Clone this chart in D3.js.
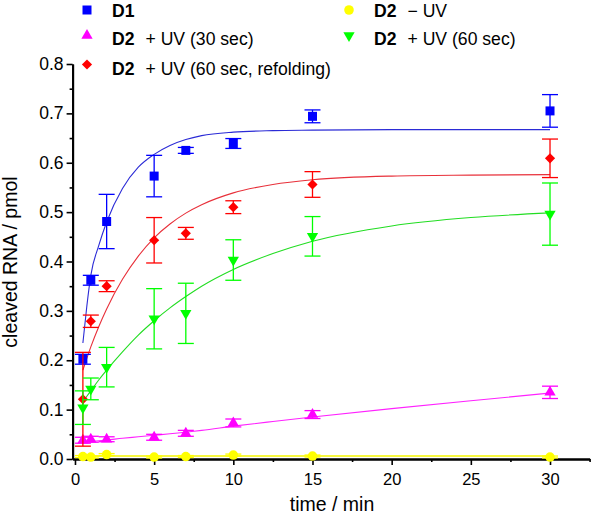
<!DOCTYPE html>
<html>
<head>
<meta charset="utf-8">
<script src="https://cdn.jsdelivr.net/npm/d3@7"></script>
<style>
  body { margin: 0; background: #fff; }
  svg { font-family: Arial, "Liberation Sans", sans-serif; }
</style>
</head>
<body>
<svg id="drawing_region"></svg>
<script>
// measurement times (min)
const times = [0.5, 1, 2, 5, 7, 10, 15, 30];

// cleaved RNA (pmol), means and error bars
const d1_mean = [0.202, 0.362, 0.481, 0.573, 0.625, 0.639, 0.694, 0.705];
const d1_err = [0.010, 0.010, 0.055, 0.042, 0.006, 0.010, 0.013, 0.033];
const noUV_mean = [0.005, 0.004, 0.009, 0.004, 0.005, 0.008, 0.006, 0.004];
const noUV_err = [0.002, 0.002, 0.002, 0.002, 0.002, 0.002, 0.002, 0.002];
const uv30_mean = [0.038, 0.040, 0.040, 0.044, 0.052, 0.073, 0.090, 0.135];
const uv30_err = [0.006, 0.006, 0.005, 0.006, 0.006, 0.008, 0.008, 0.0125];
const uv60_mean = [0.104, 0.142, 0.186, 0.284, 0.295, 0.403, 0.451, 0.496];
const uv60_err = [0.034, 0.022, 0.040, 0.061, 0.061, 0.041, 0.040, 0.063];
const refold_mean = [0.121, 0.279, 0.350, 0.443, 0.457, 0.510, 0.556, 0.609];
const refold_err = [0.095, 0.0125, 0.011, 0.046, 0.012, 0.013, 0.026, 0.039];

// fitted curves at these times
const fit_times = [0.5, 0.75, 1, 1.5, 2, 3, 4, 5, 6, 7, 8, 10, 12.5, 15, 20, 25, 30];
const d1_fit = [0.235, 0.310, 0.372, 0.432, 0.480, 0.548, 0.591, 0.617, 0.635, 0.647, 0.655, 0.662, 0.665, 0.666, 0.667, 0.667, 0.667];
const noUV_fit = [0.006, 0.006, 0.006, 0.006, 0.006, 0.006, 0.006, 0.006, 0.006, 0.006, 0.006, 0.006, 0.006, 0.006, 0.006, 0.006, 0.006];
const uv30_fit = [0.034, 0.035, 0.0355, 0.037, 0.0385, 0.042, 0.045, 0.048, 0.051, 0.0545, 0.058, 0.0665, 0.076, 0.085, 0.102, 0.118, 0.1335];
const uv60_fit = [0.115, 0.127, 0.138, 0.160, 0.180, 0.217, 0.251, 0.280, 0.306, 0.329, 0.350, 0.384, 0.416, 0.441, 0.472, 0.489, 0.4985];
const refold_fit = [0.180, 0.204, 0.227, 0.268, 0.304, 0.364, 0.411, 0.448, 0.476, 0.498, 0.515, 0.539, 0.556, 0.5655, 0.573, 0.575, 0.576];

const x_ticks = [0, 5, 10, 15, 20, 25, 30];
const x_minor = [2.5, 7.5, 12.5, 17.5, 22.5, 27.5, 32.5];
const y_ticks = [0, 0.1, 0.2, 0.3, 0.4, 0.5, 0.6, 0.7, 0.8];
const y_minor = [0.05, 0.15, 0.25, 0.35, 0.45, 0.55, 0.65, 0.75];

const series = [
    { bold: 'D1', rest: '', mean: d1_mean, err: d1_err, fit: d1_fit, color: '#0000ff', line: '#2b2bd6', shape: 'square', col: 0, row: 0 },
    { bold: 'D2', rest: '\u2212 UV', mean: noUV_mean, err: noUV_err, fit: noUV_fit, color: '#ffff00', line: '#f5f500', shape: 'circle', col: 1, row: 0 },
    { bold: 'D2', rest: '+ UV (30 sec)', mean: uv30_mean, err: uv30_err, fit: uv30_fit, color: '#ff00ff', line: '#ff22ff', shape: 'up', col: 0, row: 1 },
    { bold: 'D2', rest: '+ UV (60 sec)', mean: uv60_mean, err: uv60_err, fit: uv60_fit, color: '#00ff00', line: '#22dd22', shape: 'down', col: 1, row: 1 },
    { bold: 'D2', rest: '+ UV (60 sec, refolding)', mean: refold_mean, err: refold_err, fit: refold_fit, color: '#ff0000', line: '#e8303a', shape: 'diamond', col: 0, row: 2 }
];

function symbolPath( shape ) {
    if ( shape == 'square' ) return d3.symbol( d3.symbolSquare, 81 )();
    if ( shape == 'diamond' ) return d3.symbol( d3.symbolSquare, 52 )();
    if ( shape == 'circle' ) return d3.symbol( d3.symbolCircle, 72 )();
    return d3.symbol( d3.symbolTriangle, 55 )();
}
function symbolRotate( shape ) {
    if ( shape == 'diamond' ) return ' rotate(45)';
    if ( shape == 'down' ) return ' rotate(180)';
    return '';
}

const config = { width: 600, height: 517 };

const svg = d3.select('#drawing_region')
    .attr('width', config.width)
    .attr('height', config.height);

const xscale = d3.scaleLinear().domain([-0.15, 32.5]).range([72.6, 589.6]);
const yscale = d3.scaleLinear().domain([0, 0.8]).range([459, 64]);

// axes
const xaxis_group = svg.append('g').attr('transform', `translate(0, ${yscale(0)})`);
xaxis_group.call( d3.axisBottom( xscale ).tickValues( x_ticks ).tickSize(6).tickSizeOuter(0).tickPadding(8) );
xaxis_group.append('g').call( d3.axisBottom( xscale ).tickValues( x_minor ).tickSize(3).tickSizeOuter(0).tickFormat('') );

const yaxis_group = svg.append('g').attr('transform', `translate(${xscale.range()[0]}, 0)`);
yaxis_group.call( d3.axisLeft( yscale ).tickValues( y_ticks ).tickSize(6).tickSizeOuter(0).tickPadding(3).tickFormat( d3.format('.1f') ) );
yaxis_group.append('g').call( d3.axisLeft( yscale ).tickValues( y_minor ).tickSize(3).tickSizeOuter(0).tickFormat('') );

svg.selectAll('.domain').attr('stroke', '#000').attr('stroke-width', 2);
svg.selectAll('.tick line').attr('stroke', '#000').attr('stroke-width', 1.6);
svg.selectAll('.tick text').attr('font-family', 'Arial, "Liberation Sans", sans-serif').attr('fill', '#000');
xaxis_group.selectAll('.tick text').attr('font-size', '16.5px');
yaxis_group.selectAll('.tick text').attr('font-size', '17.5px');

// axis titles
svg.append('text')
    .attr('x', 332).attr('y', 511)
    .attr('text-anchor', 'middle')
    .attr('font-size', '19.5px')
    .text('time / min');

svg.append('text')
    .attr('transform', 'translate(17, 262) rotate(-90)')
    .attr('text-anchor', 'middle')
    .attr('font-size', '19.5px')
    .text('cleaved RNA / pmol');

// fit lines
const fitline = d3.line()
    .x( (d, i) => xscale( fit_times[i] ) )
    .y( d => yscale( d ) )
    .curve( d3.curveMonotoneX );

svg.append('g').selectAll('path')
    .data( series )
    .join('path')
    .attr('d', s => fitline( s.fit ))
    .attr('fill', 'none')
    .attr('stroke', s => s.line)
    .attr('stroke-width', s => s.shape == 'circle' ? 1.6 : 1.1);

// error bars and markers
const draw_order = [0, 2, 4, 3, 1];
draw_order.forEach( k => {
    const s = series[k];
    const g = svg.append('g');
    const pts = times.map( (t, i) => ({ t: t, m: s.mean[i], e: s.err[i] }) );

    g.selectAll('line.bar')
        .data( pts ).join('line')
        .attr('x1', d => xscale( d.t )).attr('x2', d => xscale( d.t ))
        .attr('y1', d => yscale( d.m - d.e )).attr('y2', d => yscale( d.m + d.e ))
        .attr('stroke', s.color).attr('stroke-width', 1.3);
    g.selectAll('line.captop')
        .data( pts ).join('line')
        .attr('x1', d => xscale( d.t ) - 8).attr('x2', d => xscale( d.t ) + 8)
        .attr('y1', d => yscale( d.m + d.e )).attr('y2', d => yscale( d.m + d.e ))
        .attr('stroke', s.color).attr('stroke-width', 1.3);
    g.selectAll('line.capbot')
        .data( pts ).join('line')
        .attr('x1', d => xscale( d.t ) - 8).attr('x2', d => xscale( d.t ) + 8)
        .attr('y1', d => yscale( d.m - d.e )).attr('y2', d => yscale( d.m - d.e ))
        .attr('stroke', s.color).attr('stroke-width', 1.3);

    g.selectAll('path')
        .data( pts ).join('path')
        .attr('d', symbolPath( s.shape ))
        .attr('transform', d => `translate(${xscale( d.t )}, ${yscale( d.m )})` + symbolRotate( s.shape ))
        .attr('fill', s.color);
});

// legend
const legend_x = [87, 349];
const legend_sym_y = [10, 35.5, 64.5];
const legend_txt_y = [16.5, 45, 75];

const legend = svg.append('g').selectAll('g')
    .data( series )
    .join('g');

legend.append('path')
    .attr('d', s => symbolPath( s.shape ))
    .attr('transform', s => `translate(${legend_x[s.col]}, ${legend_sym_y[s.row]})` + symbolRotate( s.shape ))
    .attr('fill', s => s.color);

const ltext = legend.append('text')
    .attr('x', s => legend_x[s.col] + 25)
    .attr('y', s => legend_txt_y[s.row])
    .attr('font-size', '17.6px');
ltext.append('tspan')
    .attr('font-weight', 'bold')
    .text( s => s.bold );
ltext.append('tspan')
    .attr('dx', 11)
    .text( s => s.rest );
</script>
</body>
</html>
